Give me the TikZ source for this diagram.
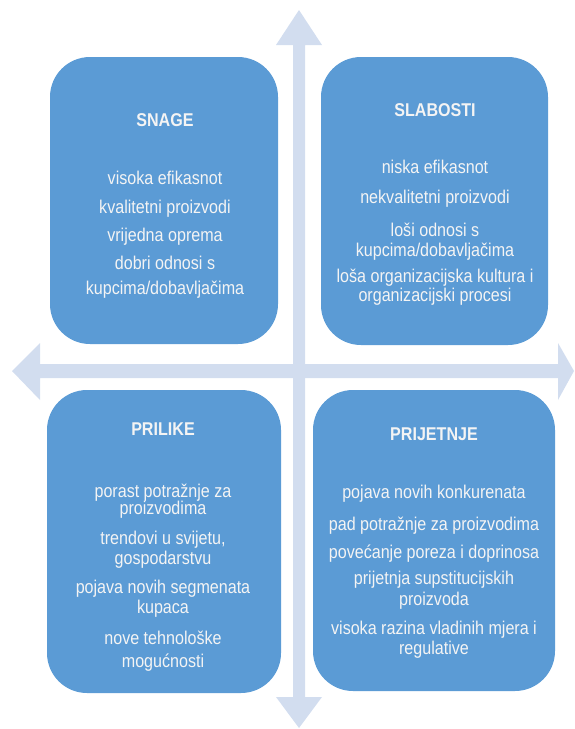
\documentclass[tikz,border=0pt]{standalone}
\usepackage{fontspec}
\setmainfont[FakeStretch=0.87]{Liberation Sans}
\definecolor{boxblue}{HTML}{5B9BD5}
\definecolor{arrowblue}{HTML}{D2DDEF}
\definecolor{txt}{HTML}{F4F4F4}
\begin{document}
\begin{tikzpicture}[x=1pt,y=-1pt,
  quad/.style={fill=boxblue, draw=none, rounded corners=40pt, inner sep=0pt},
  ttl/.style={anchor=base, text=txt, font=\fontsize{18.5}{20}\selectfont\bfseries, inner sep=0pt},
  itm/.style={anchor=base, text=txt, font=\fontsize{18.5}{20}\selectfont, inner sep=0pt}]
\useasboundingbox (0,0) rectangle (574,729);
% axes arrows
\fill[arrowblue] (293,45) -- (276,45) -- (299,10) -- (322,45) -- (305,45) -- (305,697) -- (322,697) -- (299,728) -- (276,697) -- (293,697) -- cycle;
\fill[arrowblue] (40,364) -- (40,343) -- (12,371) -- (40,400) -- (40,378) -- (558,378) -- (558,400) -- (574,371) -- (558,343) -- (558,364) -- cycle;
% boxes
\node[quad, minimum width=228pt, minimum height=287pt] (snage) at (164,200.5) {};
\node[quad, minimum width=227pt, minimum height=288pt] (slabosti) at (434.5,201) {};
\node[quad, minimum width=234pt, minimum height=303pt] (prilike) at (164,541.5) {};
\node[quad, minimum width=242pt, minimum height=301pt] (prijetnje) at (434,540.5) {};
% SNAGE
\node[ttl] (s0) at (165,126) {SNAGE};
\node[itm] (s1) at (165,184.5) {visoka efikasnot};
\node[itm] (s2) at (165,213.5) {kvalitetni proizvodi};
\node[itm] (s3) at (165,241.5) {vrijedna oprema};
\node[itm] (s4) at (165,269.5) {dobri odnosi s};
\node[itm] (s5) at (165,294.5) {kupcima/dobavljačima};
% SLABOSTI
\node[ttl] (w0) at (435,116) {SLABOSTI};
\node[itm] (w1) at (435,173.5) {niska efikasnot};
\node[itm] (w2) at (435,203.5) {nekvalitetni proizvodi};
\node[itm] (w3) at (435,236.5) {loši odnosi s};
\node[itm] (w4) at (435,256.5) {kupcima/dobavljačima};
\node[itm] (w5) at (435,282.5) {loša organizacijska kultura i};
\node[itm] (w6) at (435,301) {organizacijski procesi};
% PRILIKE
\node[ttl] (o0) at (163,435) {PRILIKE};
\node[itm] (o1) at (163,497.5) {porast potražnje za};
\node[itm] (o2) at (163,514.5) {proizvodima};
\node[itm] (o3) at (163,544.5) {trendovi u svijetu,};
\node[itm] (o4) at (163,564.5) {gospodarstvu};
\node[itm] (o5) at (163,593.5) {pojava novih segmenata};
\node[itm] (o6) at (163,613.5) {kupaca};
\node[itm] (o7) at (163,644.5) {nove tehnološke};
\node[itm] (o8) at (163,667.5) {mogućnosti};
% PRIJETNJE
\node[ttl] (t0) at (434,440) {PRIJETNJE};
\node[itm] (t1) at (434,498.5) {pojava novih konkurenata};
\node[itm] (t2) at (434,530.5) {pad potražnje za proizvodima};
\node[itm] (t3) at (434,558.5) {povećanje poreza i doprinosa};
\node[itm] (t4) at (434,584.5) {prijetnja supstitucijskih};
\node[itm] (t5) at (434,605.5) {proizvoda};
\node[itm] (t6) at (434,634.5) {visoka razina vladinih mjera i};
\node[itm] (t7) at (434,654.5) {regulative};
\end{tikzpicture}
\end{document}
